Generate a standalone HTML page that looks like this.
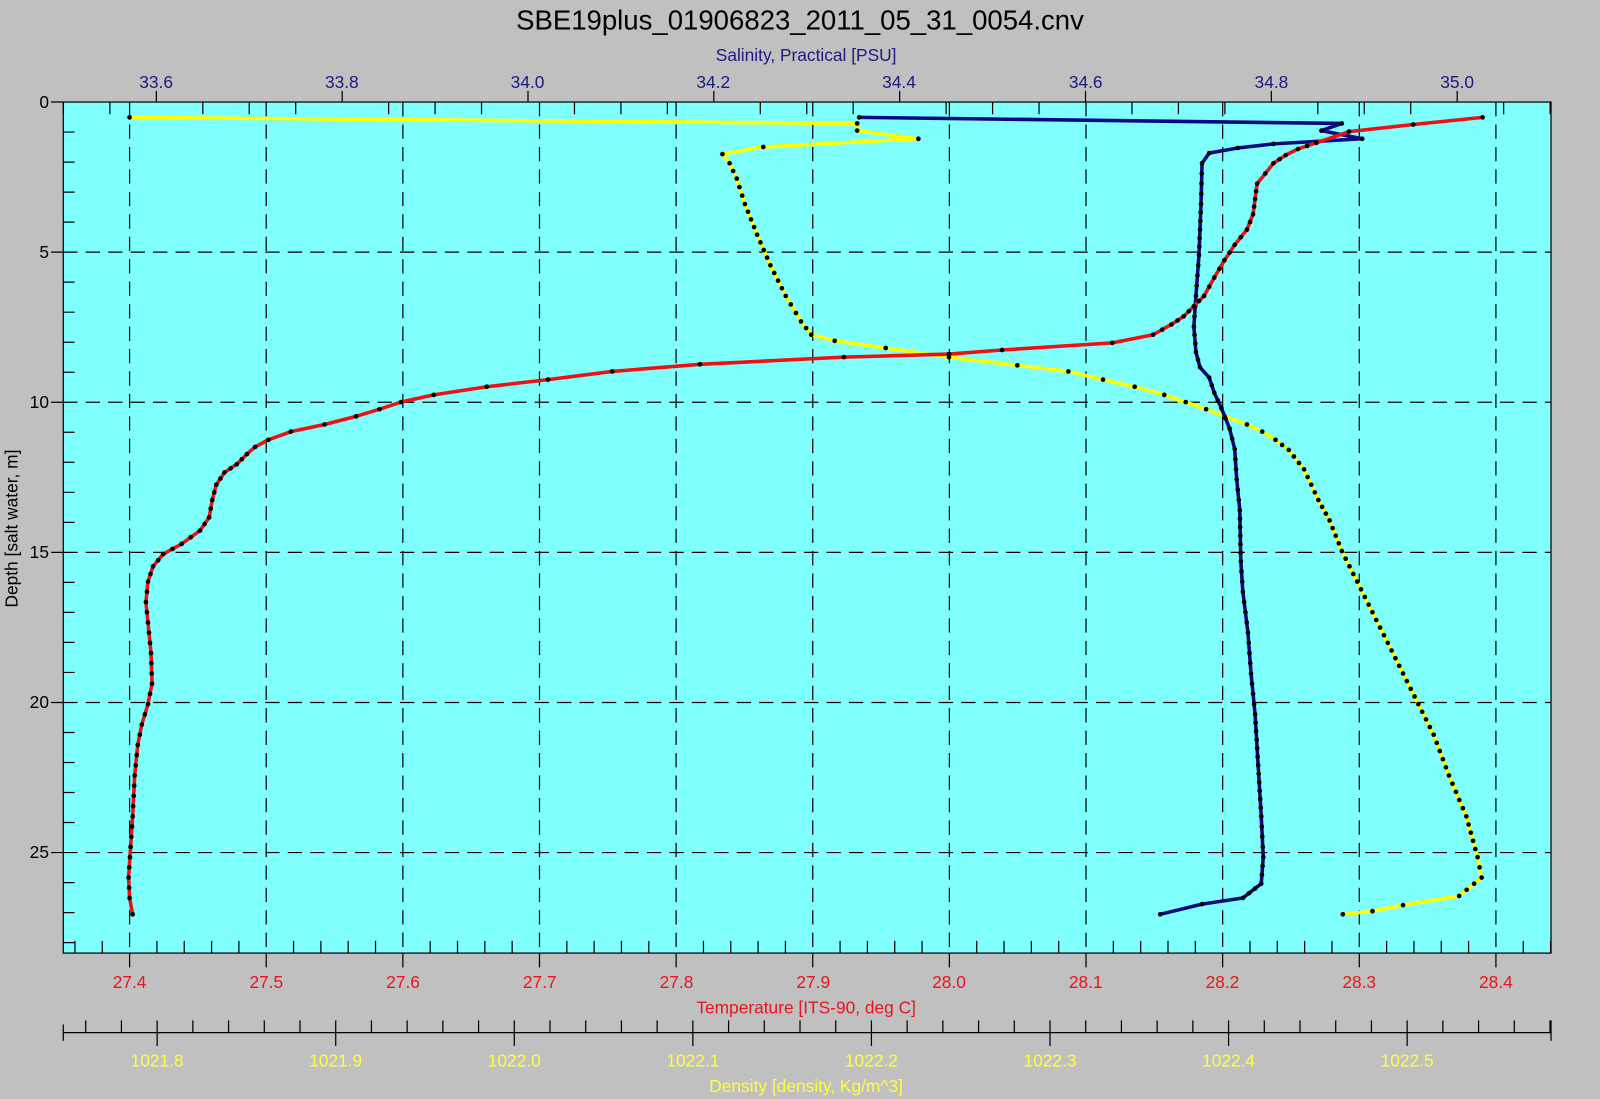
<!DOCTYPE html>
<html><head><meta charset="utf-8"><style>
html,body{margin:0;padding:0;background:#c0c0c0;}
svg{display:block;font-family:"Liberation Sans",sans-serif;}
</style></head><body>
<svg id="s" width="1600" height="1099" viewBox="0 0 1568 1077" preserveAspectRatio="none" xmlns="http://www.w3.org/2000/svg">
<rect x="0" y="0" width="1568" height="1077" fill="#c0c0c0"/>
<rect x="62" y="100" width="1458" height="834" fill="#80ffff" stroke="#000" stroke-width="1.2"/>
<g id="grid" stroke="#000" stroke-width="1.2" stroke-dasharray="14,8" fill="none"></g>
<g id="ticks" stroke="#000" stroke-width="1.2" fill="none"></g>
<text x="784" y="29" font-size="27" text-anchor="middle" fill="#000">SBE19plus_01906823_2011_05_31_0054.cnv</text>
<text x="790" y="60" font-size="17" text-anchor="middle" fill="#1a1a80">Salinity, Practical [PSU]</text>
<g font-size="17" fill="#1a1a80" text-anchor="middle">
<text x="153" y="86">33.6</text><text x="335" y="86">33.8</text><text x="517" y="86">34.0</text><text x="699" y="86">34.2</text><text x="881" y="86">34.4</text><text x="1064" y="86">34.6</text><text x="1246" y="86">34.8</text><text x="1428" y="86">35.0</text>
</g>
<g font-size="17" fill="#000" text-anchor="end">
<text x="48" y="106">0</text><text x="48" y="253">5</text><text x="48" y="400">10</text><text x="48" y="547">15</text><text x="48" y="694">20</text><text x="48" y="841">25</text>
</g>
<text transform="translate(17,518) rotate(-90)" font-size="17" text-anchor="middle" fill="#000">Depth [salt water, m]</text>
<g font-size="17" fill="#e8141e" text-anchor="middle">
<text x="127" y="968">27.4</text><text x="261" y="968">27.5</text><text x="395" y="968">27.6</text><text x="529" y="968">27.7</text><text x="663" y="968">27.8</text><text x="797" y="968">27.9</text><text x="930" y="968">28.0</text><text x="1064" y="968">28.1</text><text x="1198" y="968">28.2</text><text x="1332" y="968">28.3</text><text x="1466" y="968">28.4</text>
</g>
<text x="790" y="993" font-size="17" text-anchor="middle" fill="#e8141e">Temperature [ITS-90, deg C]</text>
<line x1="62" y1="1012" x2="1520" y2="1012" stroke="#000" stroke-width="1.2"/>
<g font-size="17" fill="#ffff40" text-anchor="middle">
<text x="154" y="1045">1021.8</text><text x="329" y="1045">1021.9</text><text x="504" y="1045">1022.0</text><text x="679" y="1045">1022.1</text><text x="854" y="1045">1022.2</text><text x="1029" y="1045">1022.3</text><text x="1204" y="1045">1022.4</text><text x="1379" y="1045">1022.5</text>
</g>
<text x="790" y="1070" font-size="17" text-anchor="middle" fill="#ffff40">Density [density, Kg/m^3]</text>
<g id="series"></g>
</svg>
<script>
var NS="http://www.w3.org/2000/svg";
function el(p,n,a){var e=document.createElementNS(NS,n);for(var k in a)e.setAttribute(k,a[k]);p.appendChild(e);return e;}
var grid=document.getElementById('grid'),tk=document.getElementById('ticks');
var d="";
for(var i=-2;i<=55;i++){var x=127+i*0.02*1339;if(x<62||x>1520)continue;
 if(i%5==0){d+="M"+x+" 934V948";el(grid,'line',{x1:x,y1:100,x2:x,y2:934});}
 else d+="M"+x+" 934V922";}
for(var dd=0;dd<=28;dd++){var y=100+dd*29.42;
 if(dd%5==0){d+="M62 "+y+"H50";if(dd>0)el(grid,'line',{x1:62,y1:y,x2:1520,y2:y});}
 else d+="M62 "+y+"H73";}
for(var i=-2;i<=32;i++){var x=153.2+i*45.53;if(x<62||x>1520)continue;
 if(i%4==0)d+="M"+x+" 100V89"; else d+="M"+x+" 100V112";}
for(var i=-4;i<=42;i++){var x=154+i*35;if(x<62||x>1521)continue;
 if(i%5==0)d+="M"+x+" 1000V1025"; else d+="M"+x+" 1000V1012";}
d+="M1520 1000V1020M62 1004V1020";
el(tk,'path',{d:d});
var T=[[1453,115],[1385,122],[1322,129],[1290,140],[1272,146],[1260,152],[1248,160],[1240,170],[1232,180],[1230,195],[1228,210],[1222,225],[1210,240],[1200,255],[1190,272],[1180,290],[1170,300],[1160,310],[1148,318],[1130,328],[1090,336],[982,343],[930,347],[827,350],[686,357],[600,364],[537,372],[477,379],[425,387],[393,394],[372,401],[349,408],[318,416],[285,423],[263,431],[250,438],[242,445],[232,455],[220,463],[212,475],[208,490],[205,507],[196,520],[178,533],[160,543],[150,555],[145,570],[143,590],[145,610],[148,640],[149,670],[145,690],[139,710],[135,730],[132,760],[130,800],[128,830],[126,860],[127,880],[130,896]];
var S=[[842,115],[1315,121],[1295,128],[1335,136],[1248,141],[1213,145],[1185,150],[1178,160],[1177,200],[1175,250],[1172,290],[1170,320],[1172,345],[1176,360],[1185,370],[1190,385],[1197,400],[1205,420],[1210,440],[1212,470],[1215,500],[1216,550],[1218,580],[1223,620],[1226,660],[1230,700],[1233,750],[1236,800],[1238,840],[1236,866],[1218,880],[1178,886],[1137,896]];
var D=[[127,115],[840,121],[840,128],[900,136],[748,144],[708,151],[715,160],[722,175],[730,200],[742,230],[755,260],[770,290],[785,315],[795,328],[818,334],[868,341],[930,350],[997,358],[1047,364],[1081,372],[1112,379],[1141,387],[1162,394],[1182,401],[1200,408],[1222,416],[1237,423],[1250,431],[1263,441],[1278,460],[1292,490],[1303,510],[1315,540],[1330,570],[1345,600],[1360,630],[1375,660],[1390,690],[1405,720],[1420,760],[1437,800],[1448,840],[1452,860],[1430,878],[1375,887],[1345,893],[1316,896]];
var g=document.getElementById('series');
function dens(a,ok){var o=[];for(var i=0;i<a.length-1;i++){var p=a[i],q=a[i+1];var L=Math.hypot(q[0]-p[0],q[1]-p[1]);var n=1;if(ok(p[1])&&L<60)n=Math.max(1,Math.round(L/9));for(var k=0;k<n;k++)o.push([p[0]+(q[0]-p[0])*k/n,p[1]+(q[1]-p[1])*k/n]);}o.push(a[a.length-1]);return o;}
function ser(a,c,ok){el(g,'polyline',{points:a.map(function(p){return p.join(',')}).join(' '),fill:'none',stroke:c,'stroke-width':3.5,'stroke-linejoin':'round'});
 dens(a,ok).forEach(function(p){el(g,'circle',{cx:p[0],cy:p[1],r:2.3,fill:'#000'});});}
ser(D,'#ffff00',function(y){return (y>=152&&y<328)||(y>=430&&y<878);});
ser(S,'#0a0a80',function(y){return y>=150&&y<878;});
ser(T,'#ee1111',function(y){return (y>=140&&y<320)||(y>=440&&y<880);});
</script>
</body></html>
